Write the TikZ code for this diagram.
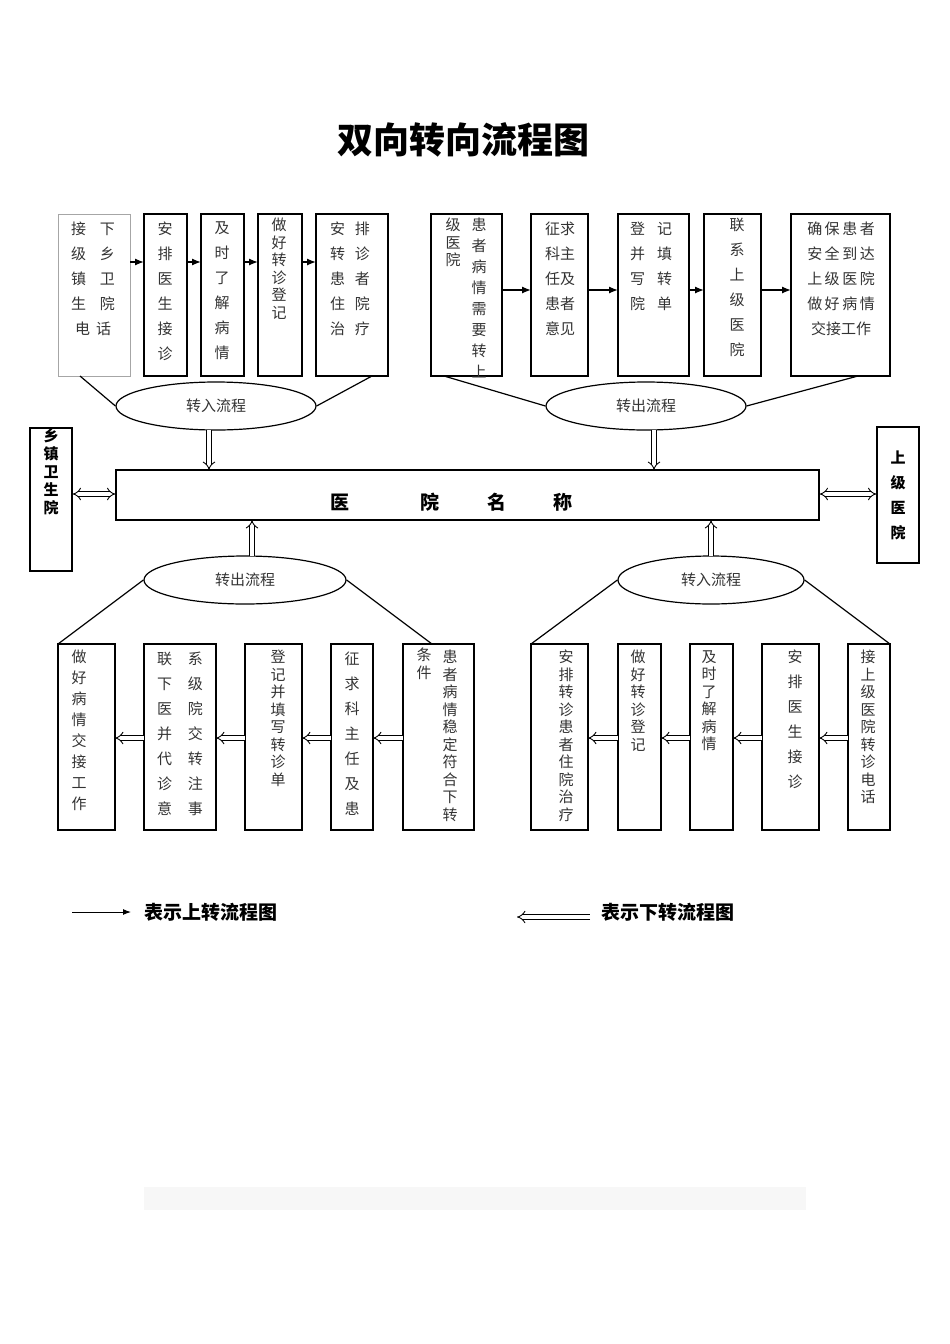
\documentclass[tikz,border=0pt]{standalone}
\usepackage{fontspec}
\setmainfont{Noto Sans CJK SC}
\newfontfamily\cjk{Noto Sans CJK SC}
\usetikzlibrary{arrows.meta,shapes.geometric}
\begin{document}
\begin{tikzpicture}[x=1pt,y=-1pt,
  bx/.style={draw,line width=1.3pt},
  gbx/.style={draw=gray!70,line width=0.8pt},
  tx/.style={anchor=north,inner sep=0,align=center,text=black!80},
  tA/.style={tx,font=\fontsize{15}{17.5}\selectfont},
  tB/.style={tx,font=\fontsize{15}{21}\selectfont},
  tC/.style={tx,font=\fontsize{15}{25}\selectfont},
  el/.style={draw,ellipse,line width=1.2pt,font=\fontsize{15}{18}\selectfont,text=black!80},
  ar/.style={-{Latex[length=9pt,width=7pt]},line width=1.3pt},
  har/.style={double,double distance=3.5pt,line width=0.9pt,-Implies},
  hhar/.style={double,double distance=3.5pt,line width=0.9pt,Implies-Implies},
  ln/.style={line width=1.2pt}]
\useasboundingbox (0,0) rectangle (950,1344);
\node[font=\bfseries\fontsize{36}{40}\selectfont] (title) at (463,140) {双向转向流程图};
% top boxes
\draw[gbx] (58,214) rectangle (130,376); \coordinate (b1) at (94,295);
\draw[bx] (144,214) rectangle (187,376);
\draw[bx] (201,214) rectangle (244,376);
\draw[bx] (258,214) rectangle (302,376);
\draw[bx] (316,214) rectangle (388,376);
\node[tC] (t1) at (93,222) {接\hspace{14pt}下\\级\hspace{14pt}乡\\镇\hspace{14pt}卫\\生\hspace{14pt}院\\电\hspace{6pt}话};
\node[tC] (t2) at (165,222) {安\\排\\医\\生\\接\\诊};
\node[tC] (t3) at (222,222) {及\\时\\了\\解\\病\\情};
\node[tA] (t4) at (279,218) {做\\好\\转\\诊\\登\\记};
\node[tC] (t5) at (350,222) {安\hspace{10pt}排\\转\hspace{10pt}诊\\患\hspace{10pt}者\\住\hspace{10pt}院\\治\hspace{10pt}疗};
\foreach \a/\b in {130/144,187/201,244/258,302/316} \draw[ar] (\a,262) -- (\b,262);
\draw[bx] (431,214) rectangle (502,376);
\draw[bx] (531,214) rectangle (588,376);
\draw[bx] (618,214) rectangle (689,376);
\draw[bx] (704,214) rectangle (761,376);
\draw[bx] (791,214) rectangle (890,376);
\node[tA] (t6a) at (453,218) {级\\医\\院};
\node[tB] (t6b) at (479,218) {患\\者\\病\\情\\需\\要\\转\\上};
\node[tC] (t7) at (560,222) {征求\\科主\\任及\\患者\\意见};
\node[tC] (t8) at (651,222) {登\hspace{12pt}记\\并\hspace{12pt}填\\写\hspace{12pt}转\\院\hspace{12pt}单};
\node[tC] (t9) at (737,218) {联\\系\\上\\级\\医\\院};
\node[tC] (t10) at (841,222) {确\,保\,患\,者\\安\,全\,到\,达\\上\,级\,医\,院\\做\,好\,病\,情\\交接工作};
\foreach \a/\b in {502/531,588/618,689/704,761/791} \draw[ar] (\a,290) -- (\b,290);
% ellipses top
\node[el,minimum width=200pt,minimum height=48pt] (e1) at (216,406) {转入流程};
\node[el,minimum width=200pt,minimum height=48pt] (e2) at (646,406) {转出流程};
\draw[ln] (80,376) -- (e1.west); \draw[ln] (372,376) -- (e1.east);
\draw[ln] (444,376) -- (e2.west); \draw[ln] (858,376) -- (e2.east);
% main
\node[draw,line width=1.3pt,minimum width=703pt,minimum height=50pt,inner sep=0] (main) at (467.5,495) {};
\foreach \x/\c in {340/医,430/院,497/名,563/称} \node[font=\bfseries\fontsize{19}{20}\selectfont] at (\x,502) {\c};
\coordinate (d1) at (209,470); \coordinate (d2) at (654,470);
\draw[har] (209,430) -- (d1);
\draw[har] (654,430) -- (d2);
\node[draw,line width=1.3pt,minimum width=42pt,minimum height=139pt,inner sep=0,font=\bfseries\fontsize{15}{18}\selectfont,align=center] (lt) at (51,499.5) {乡\\镇\\卫\\生\\院\\[40pt]};
\node[draw,line width=1.3pt,minimum width=42pt,minimum height=136pt,inner sep=0,font=\bfseries\fontsize{15}{25}\selectfont,align=center] (rt) at (898,495) {上\\级\\医\\院};
\draw[hhar] (lt.east|-0,494) -- (main.west|-0,494);
\draw[hhar] (main.east|-0,494) -- (rt.west|-0,494);
% bottom ellipses
\node[el,minimum width=202pt,minimum height=48pt] (e3) at (245,580) {转出流程};
\node[el,minimum width=186pt,minimum height=48pt] (e4) at (711,580) {转入流程};
\draw[har] (252,556) -- (252,520);
\draw[har] (711,556) -- (711,520);
\draw[ln] (e3.west) -- (58,644); \draw[ln] (e3.east) -- (432,644);
\draw[ln] (e4.west) -- (531,644); \draw[ln] (e4.east) -- (890,644);
% bottom boxes left
\draw[bx] (58,644) rectangle (115,830);
\draw[bx] (144,644) rectangle (216,830);
\draw[bx] (245,644) rectangle (302,830);
\draw[bx] (331,644) rectangle (373,830);
\draw[bx] (403,644) rectangle (474,830);
\node[tB] at (79,650) {做\\好\\病\\情\\交\\接\\工\\作};
\node[tC] at (180,652) {联\hspace{16pt}系\\下\hspace{16pt}级\\医\hspace{16pt}院\\并\hspace{16pt}交\\代\hspace{16pt}转\\诊\hspace{16pt}注\\意\hspace{16pt}事};
\node[tA] at (278,650) {登\\记\\并\\填\\写\\转\\诊\\单};
\node[tC] at (352,652) {征\\求\\科\\主\\任\\及\\患};
\node[tA] at (424,648) {条\\件};
\node[tA] at (450,650) {患\\者\\病\\情\\稳\\定\\符\\合\\下\\转};
\foreach \a/\b in {403/373,331/302,245/216,144/115} \draw[har] (\a,738) -- (\b,738);
% bottom boxes right
\draw[bx] (531,644) rectangle (588,830);
\draw[bx] (618,644) rectangle (661,830);
\draw[bx] (690,644) rectangle (733,830);
\draw[bx] (762,644) rectangle (819,830);
\draw[bx] (848,644) rectangle (890,830);
\node[tA] at (566,650) {安\\排\\转\\诊\\患\\者\\住\\院\\治\\疗};
\node[tA] at (638,650) {做\\好\\转\\诊\\登\\记};
\node[tA] at (709,650) {及\\时\\了\\解\\病\\情};
\node[tC] at (795,650) {安\\排\\医\\生\\接\\诊};
\node[tA] at (868,650) {接\\上\\级\\医\\院\\转\\诊\\电\\话};
\foreach \a/\b in {848/819,762/733,690/661,618/588} \draw[har] (\a,738) -- (\b,738);
% legend
\coordinate (l1a) at (72,912); \coordinate (l1b) at (131,912);
\draw[-{Latex[length=8pt,width=6pt]},line width=1pt] (l1a) -- (l1b);
\node[anchor=west,font=\bfseries\fontsize{19}{20}\selectfont] (lg1) at (141,912) {表示上转流程图};
\coordinate (l2a) at (590,917); \coordinate (l2b) at (517,917);
\draw[har] (l2a) -- (l2b);
\node[anchor=west,font=\bfseries\fontsize{19}{20}\selectfont] (lg2) at (598,912) {表示下转流程图};
\fill[black!3] (144,1187) rectangle (806,1210);
\end{tikzpicture}
\end{document}
